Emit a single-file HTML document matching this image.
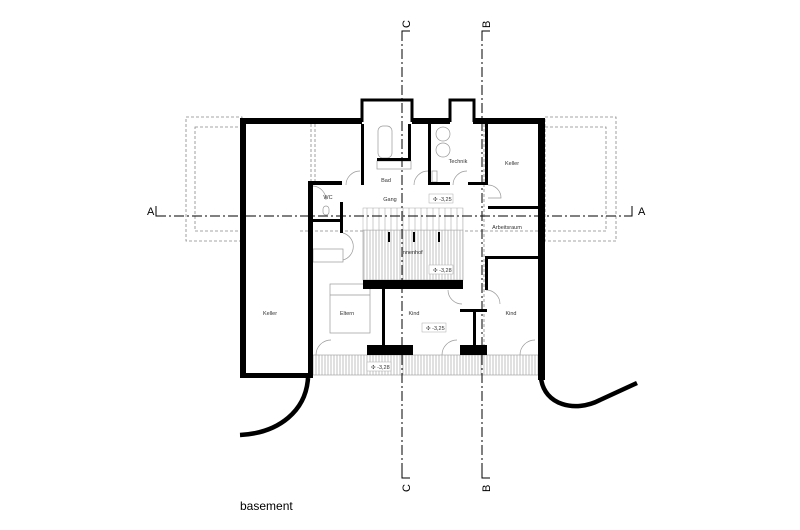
<!DOCTYPE html>
<html><head><meta charset="utf-8"><style>
html,body{margin:0;padding:0;background:#fff;}
svg{display:block;}
text{font-family:"Liberation Sans",sans-serif;fill:#333;}
</style></head><body>
<svg width="800" height="530" viewBox="0 0 800 530" xmlns="http://www.w3.org/2000/svg">
<defs>
<pattern id="hatch" width="3" height="10" patternUnits="userSpaceOnUse"><rect width="3" height="10" fill="#fff"/><line x1="1" y1="0" x2="1" y2="10" stroke="#999" stroke-width="0.6"/></pattern>
<pattern id="tread" width="6" height="10" patternUnits="userSpaceOnUse"><rect width="6" height="10" fill="#fff"/><line x1="1" y1="0" x2="1" y2="10" stroke="#aaa" stroke-width="0.6"/></pattern>
</defs>
<!-- dashed outlines -->
<g fill="none" stroke="#888" stroke-width="0.8" stroke-dasharray="3,2">
<rect x="186" y="117" width="56" height="124"/>
<rect x="195" y="127" width="47" height="104"/>
<rect x="545" y="117" width="71" height="124"/>
<rect x="545" y="127" width="61" height="104"/>
<line x1="311" y1="124" x2="311" y2="182"/><line x1="315" y1="124" x2="315" y2="182"/>
<line x1="300" y1="231" x2="545" y2="231"/>
<line x1="484" y1="124" x2="484" y2="345"/>
</g>
<!-- hatched areas -->
<rect x="363" y="230" width="100" height="50" fill="url(#hatch)" stroke="#999" stroke-width="0.6"/>
<rect x="363" y="208" width="100" height="22" fill="url(#tread)" stroke="#aaa" stroke-width="0.5"/>
<rect x="313" y="355" width="227" height="20" fill="url(#hatch)" stroke="#999" stroke-width="0.6"/>
<!-- furniture -->
<g fill="none" stroke="#999" stroke-width="0.7">
<rect x="330" y="284" width="40" height="49"/><line x1="330" y1="295" x2="370" y2="295"/>
<rect x="313" y="249" width="30" height="13"/>
<rect x="378" y="126" width="14" height="32" rx="5"/>
<circle cx="443" cy="134" r="7"/><circle cx="443" cy="150" r="7"/>
<rect x="377" y="161" width="34" height="8"/>
<rect x="432" y="171" width="5" height="11"/>
<rect x="323" y="206" width="6" height="9" rx="3"/>
<path d="M346 185 A14 14 0 0 1 360 171"/><path d="M414 185 A14 14 0 0 1 428 171"/>
<path d="M453 185 A14 14 0 0 1 467 171"/>
<path d="M488 185 A13 13 0 0 1 501 198 L488 198"/>
<path d="M448 290 A14 14 0 0 0 462 304 M486 290 A14 14 0 0 1 500 304"/>
<path d="M316 355 A15 15 0 0 1 331 340"/><path d="M442 355 A15 15 0 0 1 457 340"/>
<path d="M520 355 A15 15 0 0 1 535 340"/>
<path d="M313 186 A14 14 0 0 1 326 200"/><path d="M343 233 A14 14 0 0 1 343 260"/>
</g>
<!-- walls -->
<g fill="#000">
<rect x="240" y="118" width="6" height="260"/>
<rect x="240" y="118" width="122" height="6"/>
<rect x="412" y="118" width="38" height="6"/>
<rect x="473" y="118" width="72" height="6"/>
<rect x="538" y="118" width="7" height="262"/>
<rect x="240" y="373" width="73" height="5"/>
<rect x="308" y="181" width="5" height="197"/>
<rect x="308" y="181" width="34" height="4"/>
<rect x="313" y="219" width="27" height="3"/>
<rect x="340" y="202" width="3" height="31"/>
<rect x="361" y="124" width="3" height="61"/>
<rect x="408" y="124" width="3" height="36"/>
<rect x="377" y="158" width="34" height="3"/>
<rect x="428" y="124" width="3" height="61"/>
<rect x="428" y="182" width="22" height="3"/>
<rect x="468" y="182" width="20" height="3"/>
<rect x="485" y="124" width="3" height="61"/>
<rect x="488" y="206" width="52" height="3"/>
<rect x="485" y="256" width="55" height="3"/>
<rect x="485" y="256" width="3" height="34"/>
<rect x="363" y="280" width="100" height="9"/>
<rect x="382" y="289" width="3" height="56"/>
<rect x="367" y="345" width="46" height="10"/>
<rect x="460" y="345" width="27" height="10"/>
<rect x="473" y="310" width="3" height="35"/>
<rect x="460" y="309" width="27" height="3"/>
<rect x="388" y="232" width="2" height="10"/><rect x="413" y="232" width="2" height="10"/><rect x="438" y="232" width="2" height="10"/>
</g>
<g fill="none" stroke="#000" stroke-width="3">
<path d="M362 122 V100 H412 V122"/>
<path d="M450 122 V100 H474 V122"/>
</g>
<g fill="none" stroke="#000" stroke-width="4.5">
<path d="M308 378 C306 410 280 433 240 435"/>
<path d="M541 378 C544 405 575 413 600 400 L637 383"/>
</g>
<!-- section lines -->
<g fill="none" stroke="#000" stroke-width="1" stroke-dasharray="10,3,2,3">
<line x1="402" y1="31" x2="402" y2="478"/>
<line x1="482" y1="31" x2="482" y2="478"/>
<line x1="156" y1="216" x2="632" y2="216"/>
</g>
<g fill="none" stroke="#000" stroke-width="1">
<path d="M410 31 H402 V36"/><path d="M490 31 H482 V36"/>
<path d="M410 478 H402 V472"/><path d="M490 478 H482 V472"/>
<path d="M156 206 V216 H162"/><path d="M632 206 V216 H626"/>
</g>
<g font-size="11" fill="#000">
<text x="0" y="0" transform="translate(410,28) rotate(-90)" style="fill:#000">C</text>
<text x="0" y="0" transform="translate(490,28) rotate(-90)" style="fill:#000">B</text>
<text x="0" y="0" transform="translate(410,492) rotate(-90)" style="fill:#000">C</text>
<text x="0" y="0" transform="translate(490,492) rotate(-90)" style="fill:#000">B</text>
<text x="147" y="215" style="fill:#000">A</text>
<text x="638" y="215" style="fill:#000">A</text>
</g>
<!-- labels -->
<g font-size="5.5" text-anchor="middle">
<text x="386" y="182">Bad</text>
<text x="390" y="201">Gang</text>
<text x="458" y="163">Technik</text>
<text x="512" y="165">Keller</text>
<text x="328" y="199">WC</text>
<text x="507" y="229">Arbeitsraum</text>
<text x="412" y="254">Innenhof</text>
<text x="347" y="315">Eltern</text>
<text x="414" y="315">Kind</text>
<text x="511" y="315">Kind</text>
<text x="270" y="315">Keller</text>
</g>
<g font-size="5.5">
<rect x="429" y="194" width="24" height="9" fill="#fff" stroke="#aaa" stroke-width="0.5"/><text x="433" y="201">✣ -3,25</text>
<rect x="429" y="265" width="24" height="9" fill="#fff" stroke="#aaa" stroke-width="0.5"/><text x="433" y="272">✣ -3,28</text>
<rect x="422" y="323" width="24" height="9" fill="#fff" stroke="#aaa" stroke-width="0.5"/><text x="426" y="330">✣ -3,25</text>
<rect x="367" y="362" width="24" height="9" fill="#fff" stroke="#aaa" stroke-width="0.5"/><text x="371" y="369">✣ -3,28</text>
</g>
<text x="240" y="510" font-size="12" style="fill:#000">basement</text>
</svg>
</body></html>
